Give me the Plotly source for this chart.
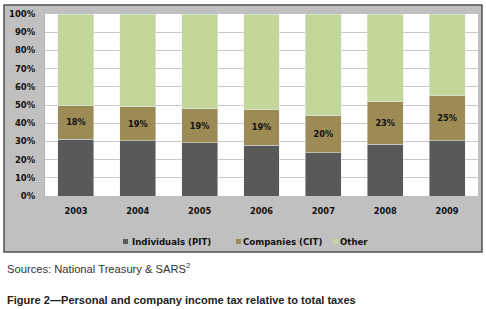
import plotly.graph_objects as go

years = ["2003", "2004", "2005", "2006", "2007", "2008", "2009"]
pit = [31.2, 30.4, 29.3, 28.0, 23.8, 28.4, 30.4]
cit = [18.4, 18.7, 18.6, 19.4, 20.3, 23.4, 24.6]
other = [round(100 - a - b, 1) for a, b in zip(pit, cit)]
y_ticks = [0, 10, 20, 30, 40, 50, 60, 70, 80, 90, 100]
y_tick_text = [f"{v}%" for v in y_ticks]
series_names = ["Individuals (PIT)", "Companies (CIT)", "Other"]

COLORS = ["#595959", "#9c8b55", "#c4d79b"]

W, H = 486, 309
L, R, T, B = 45, 8, 14, 113
pw, ph = W - L - R, H - T - B

def px_x(x):
    return (x - L) / pw

def px_y(y):
    return (H - B - y) / ph

bold = "DejaVu Sans"
fig = go.Figure()
fig.add_trace(go.Bar(x=years, y=pit, name=series_names[0], marker_color=COLORS[0]))
fig.add_trace(go.Bar(x=years, y=cit, name=series_names[1], marker_color=COLORS[1],
                     texttemplate="<b>%{y:.0f}%</b>", textposition="inside",
                     insidetextanchor="middle",
                     textfont=dict(family=bold, size=8.2, color="#111111")))
fig.add_trace(go.Bar(x=years, y=other, name=series_names[2], marker_color=COLORS[2]))

shapes = [
    dict(type="rect", xref="paper", yref="paper", x0=px_x(4), x1=px_x(482), y0=px_y(252), y1=px_y(5),
         fillcolor="#c0c0c0", line=dict(color="#505050", width=1.5), layer="below"),
    dict(type="rect", xref="paper", yref="paper", x0=0, x1=1, y0=0, y1=1,
         fillcolor="white", line=dict(width=0), layer="below"),
]
annotations = [
    dict(xref="paper", yref="paper", x=px_x(5), y=px_y(268), xanchor="left", yanchor="middle",
         text="Sources: National Treasury & SARS<sup>2</sup>", showarrow=False,
         font=dict(family="Liberation Sans", size=11.2, color="#333333")),
    dict(xref="paper", yref="paper", x=px_x(5), y=px_y(300), xanchor="left", yanchor="middle",
         text="<b>Figure 2\u2014Personal and company income tax relative to total taxes</b>", showarrow=False,
         font=dict(family="Liberation Sans", size=11.05, color="#222222")),
]
# custom legend (small squares + bold labels)
legend_sq_x = [123, 236, 333]
legend_tx = [131, 242, 339]
legend_ty = 241.5
for name, col, sx, tx in zip(series_names, COLORS, legend_sq_x, legend_tx):
    shapes.append(dict(type="rect", xref="paper", yref="paper",
                       x0=px_x(sx), x1=px_x(sx + 5), y0=px_y(legend_ty + 2.5), y1=px_y(legend_ty - 2.5),
                       fillcolor=col, line=dict(width=0)))
    annotations.append(dict(xref="paper", yref="paper", x=px_x(tx), y=px_y(legend_ty),
                            xanchor="left", yanchor="middle", showarrow=False,
                            text=f"<b>{name}</b>", xshift=-1,
                            font=dict(family=bold, size=8.6, color="#111111")))

fig.update_layout(
    width=W, height=H,
    margin=dict(l=L, r=R, t=T, b=B, autoexpand=False),
    barmode="stack", bargap=0.42,
    paper_bgcolor="white", plot_bgcolor="rgba(0,0,0,0)",
    showlegend=False,
    xaxis=dict(showgrid=False, tickfont=dict(family=bold, size=8.3, color="#111111"),
               ticklabelstandoff=9, showline=False,
               tickvals=years, ticktext=[f"<b>{y}</b>" for y in years]),
    yaxis=dict(range=[0, 100], tickvals=y_ticks, ticktext=[f"<b>{t}</b>" for t in y_tick_text],
               showgrid=True, gridcolor="#c8c8c8", gridwidth=1,
               tickfont=dict(family=bold, size=8.5, color="#111111"),
               ticklabelstandoff=7, showline=True, linecolor="#b0b0b0", linewidth=1, zeroline=False),
    shapes=shapes,
    annotations=annotations,
)

fig.write_html("out.html", config={"displayModeBar": False},
               post_script="document.body.style.margin='0';document.body.style.overflow='hidden';")
